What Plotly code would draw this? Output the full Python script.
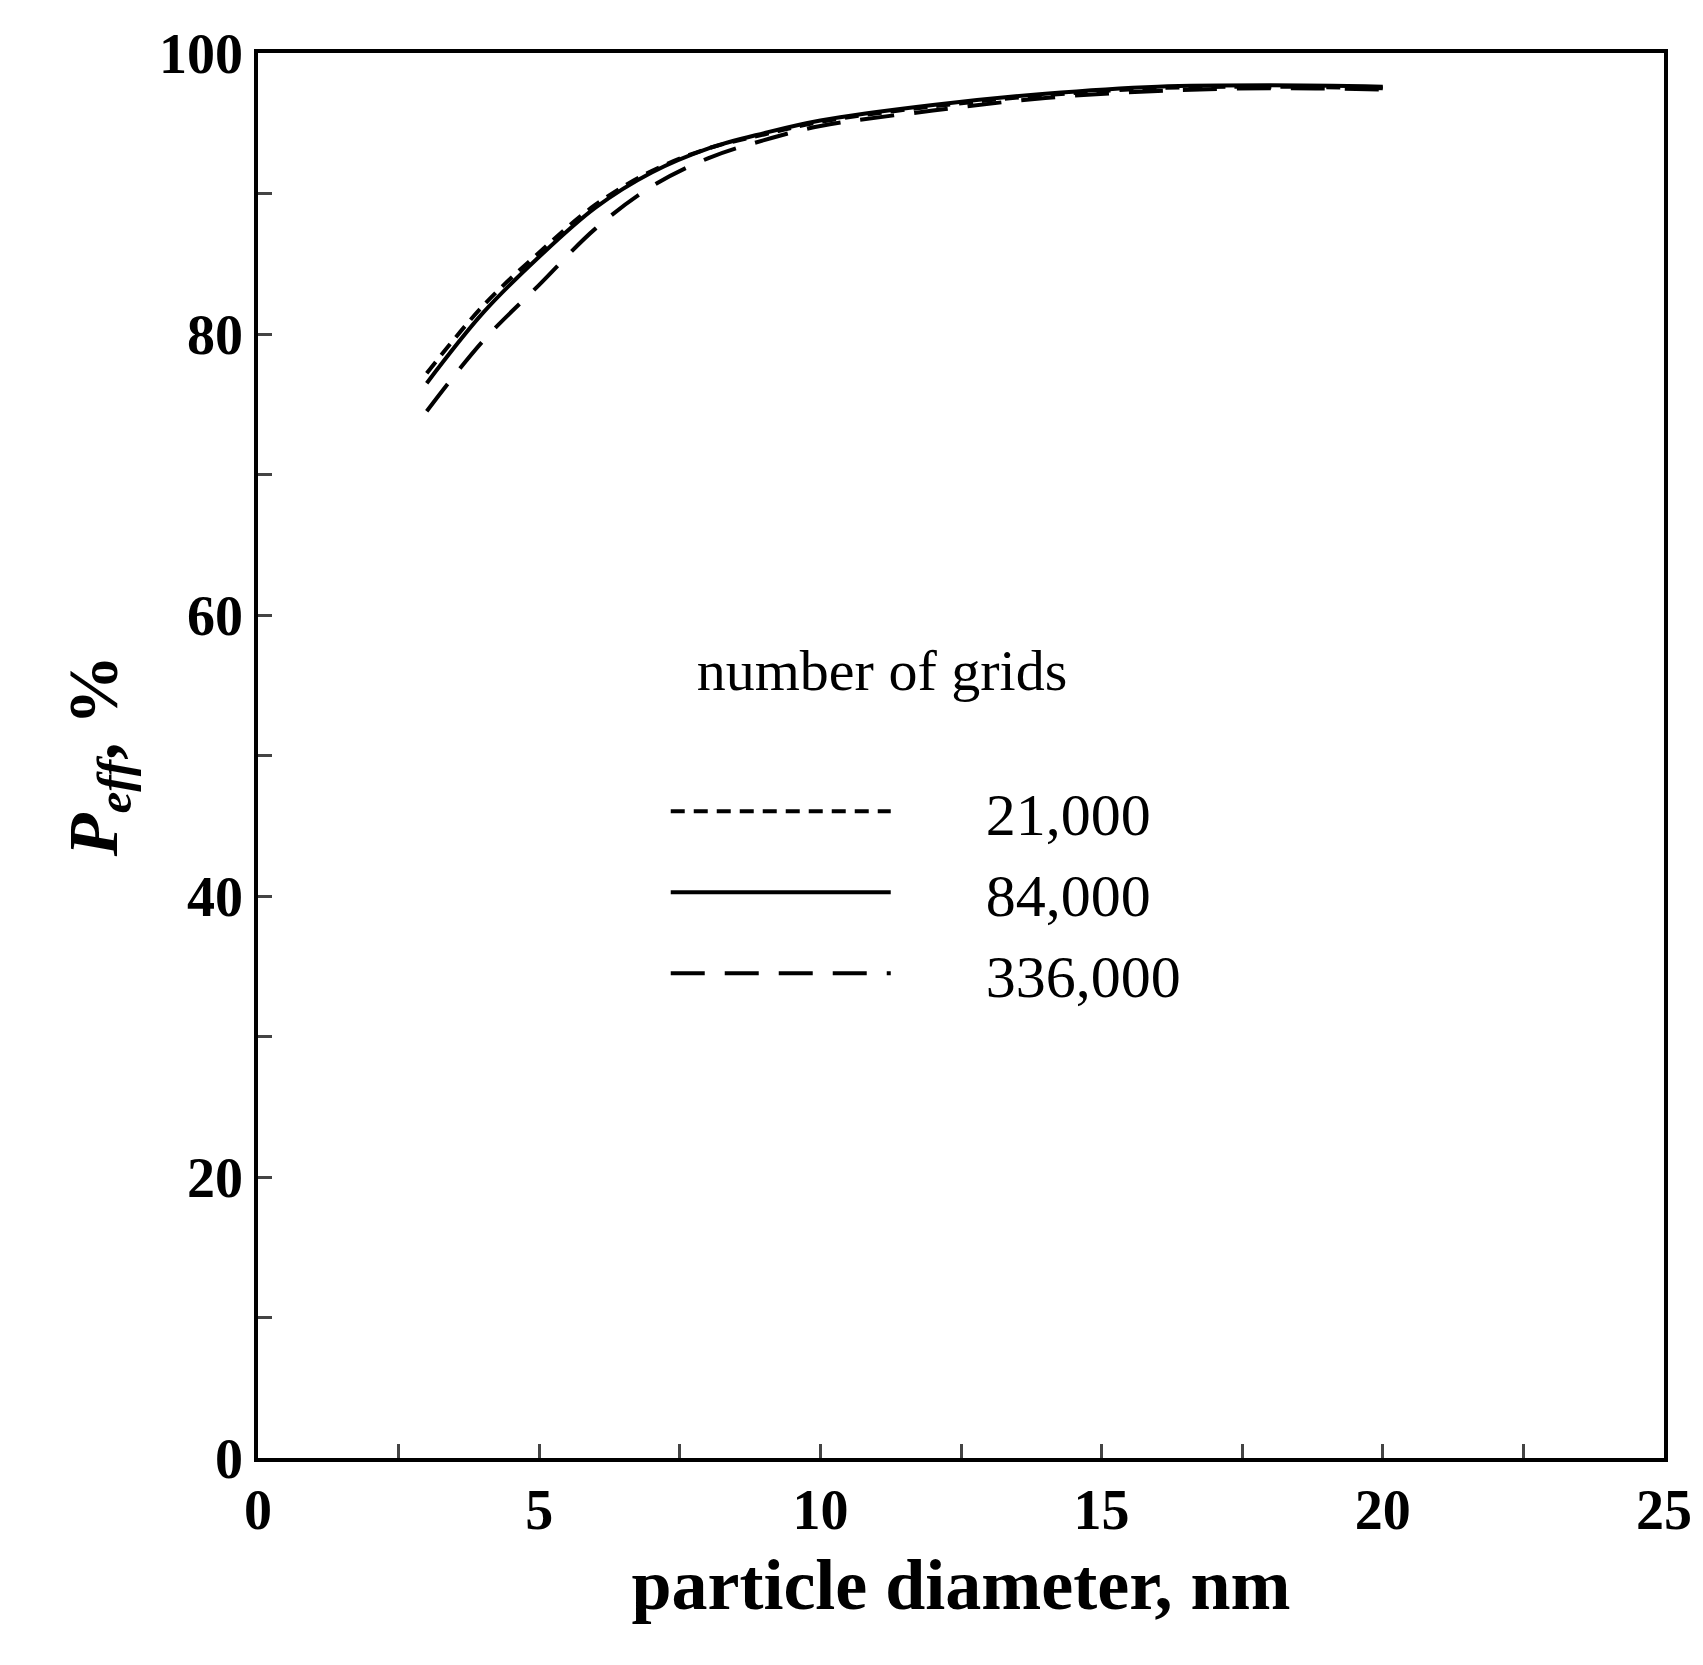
import plotly.graph_objects as go

x = [3, 4, 5, 6, 7, 8, 9, 10, 12, 14, 16, 18, 20]
g21000 = [77.2, 82.0, 85.8, 89.2, 91.6, 93.2, 94.2, 95.1, 96.2, 97.0, 97.5, 97.6, 97.5]
g84000 = [76.5, 81.5, 85.5, 89.0, 91.5, 93.2, 94.3, 95.2, 96.3, 97.1, 97.6, 97.7, 97.6]
g336000 = [74.5, 79.5, 83.5, 87.5, 90.5, 92.5, 93.8, 94.8, 95.9, 96.8, 97.3, 97.5, 97.4]

names = ["21,000", "84,000", "336,000"]
dashes = ["14px,9px", "solid", "34px,20px"]

fig = go.Figure()
for y, n, d in zip([g21000, g84000, g336000], names, dashes):
    fig.add_trace(go.Scatter(x=x, y=y, mode="lines", name="      " + n,
                             line=dict(color="black", width=4, dash=d, shape="spline")))

font = "Liberation Serif"
fig.update_layout(
    width=1703, height=1665, plot_bgcolor="white", paper_bgcolor="white",
    margin=dict(l=250, r=47, t=45, b=215),
    font=dict(family=font, color="black"),
    showlegend=True,
    legend=dict(x=0.29, y=0.6, xanchor="left", yanchor="top", bgcolor="rgba(0,0,0,0)",
                font=dict(size=60, family=font), itemwidth=220, tracegroupgap=10,
                title=dict(text="  number of grids<br> ", font=dict(size=58, family=font))),
    xaxis=dict(range=[0, 25], tickvals=[0, 5, 10, 15, 20, 25], ticks="inside", ticklen=14, tickwidth=3,
               minor=dict(dtick=2.5, ticks="inside", ticklen=14, tickwidth=3),
               showline=True, linewidth=3.5, linecolor="black", mirror=True, showgrid=False, zeroline=False,
               tickfont=dict(size=56, family=font, weight="bold"),
               title=dict(text="<b>particle diameter, nm</b>", font=dict(size=72, family=font), standoff=20)),
    yaxis=dict(range=[0, 100], tickvals=[0, 20, 40, 60, 80, 100], ticks="inside", ticklen=14, tickwidth=3,
               minor=dict(dtick=10, ticks="inside", ticklen=14, tickwidth=3),
               showline=True, linewidth=3.5, linecolor="black", mirror=True, showgrid=False, zeroline=False,
               tickfont=dict(size=56, family=font, weight="bold"),
               title=dict(text="<b><i>P<sub>eff</sub></i>, %</b>", font=dict(size=70, family=font), standoff=20)),
)
fig.write_html("out.html")
